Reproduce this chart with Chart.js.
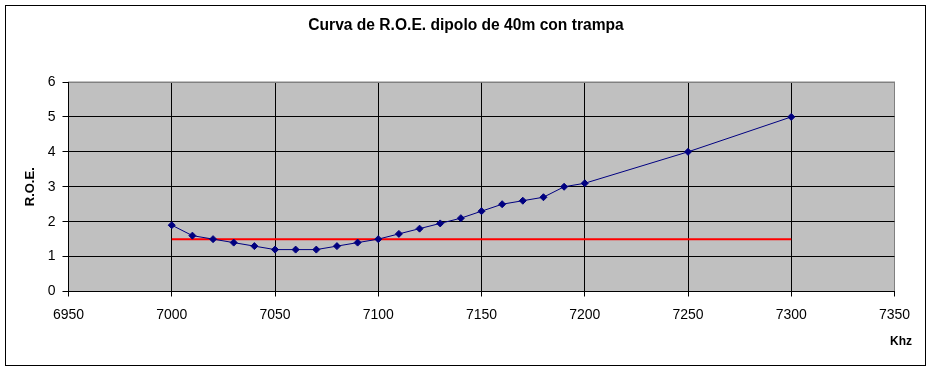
<!DOCTYPE html>
<html>
<head>
<meta charset="utf-8">
<script src="https://cdn.jsdelivr.net/npm/chart.js@4/dist/chart.umd.min.js"></script>
<style>
  body { margin: 0; background: #fff; }
  #wrap { width: 932px; height: 370px; }
</style>
</head>
<body>
<div id="wrap"><canvas id="roe" width="932" height="370"></canvas></div>
<script>
// frecuencias medidas (kHz) y R.O.E. leida
const freqs = [7000, 7010, 7020, 7030, 7040, 7050, 7060, 7070, 7080, 7090, 7100,
  7110, 7120, 7130, 7140, 7150, 7160, 7170, 7180, 7190, 7200, 7250, 7300];
const roe = [1.9, 1.6, 1.5, 1.4, 1.3, 1.2, 1.2, 1.2, 1.3, 1.4, 1.5,
  1.65, 1.8, 1.95, 2.1, 2.3, 2.5, 2.6, 2.7, 3.0, 3.1, 4.0, 5.0];
// linea de referencia
const refFreqs = [7000, 7300];
const refRoe = [1.5, 1.5];

const FONT = "'Liberation Sans', Arial, sans-serif";

const frame = {
  id: 'frame',
  beforeDraw(chart) {
    const { ctx, chartArea: a } = chart;
    ctx.save();
    ctx.fillStyle = '#fff';
    ctx.fillRect(0, 0, chart.width, chart.height);
    ctx.strokeStyle = '#000';
    ctx.lineWidth = 1;
    ctx.strokeRect(5.5, 5.5, 920, 360);
    ctx.fillStyle = '#c0c0c0';
    ctx.fillRect(a.left, a.top, a.right - a.left, a.bottom - a.top);
    ctx.strokeStyle = '#808080';
    ctx.strokeRect(a.left, a.top, a.right - a.left, a.bottom - a.top);
    ctx.restore();
  },
  afterDraw(chart) {
    const { ctx } = chart;
    ctx.save();
    ctx.fillStyle = '#000';
    ctx.font = 'bold 12px ' + FONT;
    ctx.textAlign = 'right';
    ctx.textBaseline = 'middle';
    ctx.fillText('Khz', 912, 342);
    ctx.restore();
  }
};

const pts = (xs, ys) => xs.map((x, i) => ({ x: x, y: ys[i] }));

new Chart(document.getElementById('roe'), {
  type: 'scatter',
  data: {
    datasets: [{
      label: 'R.O.E.',
      data: pts(freqs, roe),
      showLine: true,
      borderColor: '#000080',
      borderWidth: 1,
      pointStyle: 'rectRot',
      pointRadius: 3.5,
      pointBackgroundColor: '#000080',
      pointBorderColor: '#000080',
      pointBorderWidth: 1
    }, {
      label: 'ref',
      data: pts(refFreqs, refRoe),
      showLine: true,
      borderColor: '#ff0000',
      borderWidth: 2,
      pointRadius: 0
    }]
  },
  options: {
    responsive: false,
    animation: false,
    layout: { padding: 0 },
    plugins: {
      legend: { display: false },
      tooltip: { enabled: false },
      title: {
        display: true,
        text: 'Curva de R.O.E. dipolo de 40m con trampa',
        color: '#000',
        font: { family: FONT, size: 15.6, weight: 'bold', lineHeight: 1.2 },
        padding: { top: 16, bottom: 47.3 }
      }
    },
    scales: {
      x: {
        type: 'linear',
        min: 6950,
        max: 7350,
        afterFit(s) { s.height = 78.5; },
        ticks: {
          stepSize: 50,
          color: '#000',
          padding: 10,
          maxRotation: 0,
          font: { family: FONT, size: 14 },
          callback: v => String(v)
        },
        grid: {
          color: c => (c.tick && c.tick.value === 7350 ? '#808080' : '#000'),
          tickColor: '#000',
          tickLength: 5,
          lineWidth: 1
        },
        border: { color: '#000', width: 1 }
      },
      y: {
        min: 0,
        max: 6,
        afterFit(s) { s.width = 68.5; },
        title: {
          display: true,
          text: 'R.O.E.',
          color: '#000',
          font: { family: FONT, size: 13, weight: 'bold', lineHeight: 1.2 },
          padding: { top: 23, bottom: 0 }
        },
        ticks: {
          stepSize: 1,
          color: '#000',
          padding: 7,
          font: { family: FONT, size: 14 }
        },
        grid: {
          color: c => (c.tick && c.tick.value === 6 ? '#808080' : '#000'),
          tickColor: '#000',
          tickLength: 6,
          lineWidth: 1
        },
        border: { color: '#000', width: 1 }
      },
      // margen derecho vacio
      yr: {
        position: 'right',
        min: 0,
        max: 6,
        afterFit(s) { s.width = 37.5; },
        ticks: { display: false },
        grid: { display: false, drawTicks: false },
        border: { display: false }
      }
    }
  },
  plugins: [frame]
});
</script>
</body>
</html>
